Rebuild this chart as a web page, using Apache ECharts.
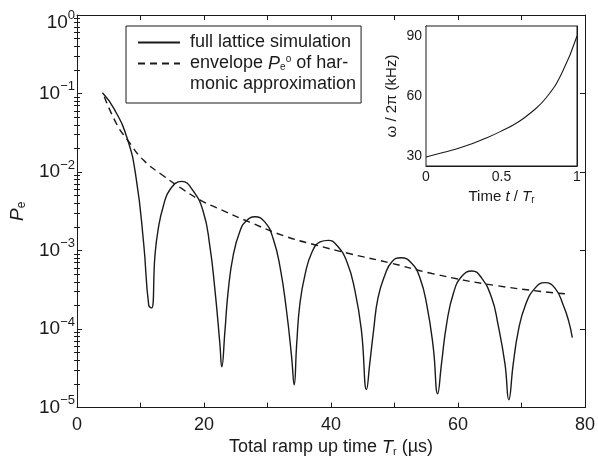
<!DOCTYPE html>
<html>
<head>
<meta charset="utf-8">
<script src="https://cdn.jsdelivr.net/npm/echarts@6/dist/echarts.min.js"></script>
<style>
  html, body { margin: 0; padding: 0; background: #fff; }
  #chart { width: 598px; height: 462px; }
</style>
</head>
<body>
<div id="chart"></div>
<script>
// full lattice simulation, P_e against total ramp time (µs)
var rampTime = [4.0, 5.8, 7.9, 9.3, 10.5, 11.3, 11.76, 12.28, 12.8, 13.6, 14.65, 16.5, 18.3, 19.9, 20.9, 21.7, 22.5, 22.8,
  23.3, 23.8, 24.6, 25.7, 26.7, 28.0, 29.6, 30.9, 32.0, 33.0, 33.8, 34.2,
  34.6, 35.1, 35.9, 37.0, 38.3, 39.6, 40.9, 42.5, 43.8, 44.8, 45.6,
  46.1, 46.7, 47.4, 48.5, 49.6, 51.0, 52.7, 54.0, 55.1, 56.1, 56.8,
  57.4, 58.2, 59.3, 60.6, 62.2, 63.7, 65.3, 66.3, 67.4, 68.0,
  68.7, 69.5, 70.6, 72.1, 73.7, 75.3, 76.6, 77.4, 78.0];
var peFull = [0.102, 0.0646, 0.0269, 8.5e-3, 1.23e-3, 2.0e-4, 1.86e-4, 8.7e-4, 1.9e-3, 3.7e-3, 6.0e-3, 7.6e-3, 5.75e-3, 3.1e-3, 1.17e-3, 3.3e-4, 6.5e-5, 3.3e-5,
  9.5e-5, 3.0e-4, 8.7e-4, 1.8e-3, 2.4e-3, 2.7e-3, 2.3e-3, 1.41e-3, 6.0e-4, 1.7e-4, 4.4e-5, 1.95e-5,
  6.5e-5, 2.1e-4, 4.9e-4, 9.5e-4, 1.29e-3, 1.35e-3, 1.17e-3, 7.2e-4, 3.0e-4, 9.5e-5, 1.7e-5,
  3.6e-5, 9.5e-5, 2.5e-4, 4.9e-4, 7.2e-4, 8.1e-4, 6.9e-4, 4.5e-4, 2.0e-4, 5.9e-5, 1.5e-5,
  3.6e-5, 1.15e-4, 2.9e-4, 4.7e-4, 5.5e-4, 4.5e-4, 2.5e-4, 1.15e-4, 3.6e-5, 1.26e-5,
  3.6e-5, 9.5e-5, 2.0e-4, 3.3e-4, 3.9e-4, 3.3e-4, 2.0e-4, 1.29e-4, 7.8e-5];

// envelope of the harmonic approximation
var envTime = [4.3, 6.3, 7.9, 10.5, 13.65, 16.7, 19.4, 22.0, 27.2, 32.5, 37.7, 43.0, 49.5, 55.9, 66.3, 77.1];
var envPe = [0.091, 0.040, 0.026, 0.0141, 8.9e-3, 6.0e-3, 4.4e-3, 3.5e-3, 2.3e-3, 1.55e-3, 1.17e-3, 9.1e-4, 6.9e-4, 5.1e-4, 3.55e-4, 2.8e-4];

// inset: trap frequency during the ramp
var insetT = [0, 0.1, 0.2, 0.3, 0.4, 0.5, 0.6, 0.7, 0.8, 0.9, 1.0];
var insetFreq = [29.5, 31.5, 33.5, 36, 39, 42.5, 46.5, 52, 59.5, 71.5, 90];

var yTicks = [1e-5, 1e-4, 1e-3, 1e-2, 1e-1, 1];
var yTickExp = ['\u22125', '\u22124', '\u22123', '\u22122', '\u22121', '0'];
var xTickLabels = [0, 20, 40, 60, 80];
var insetXTicks = [0, 0.5, 1];
var insetYTicks = [30, 60, 90];

var FONT = 'Liberation Sans, Arial, sans-serif';
var INK = '#1a1a1a';

// minor ticks of the log axis (2..9 in each decade)
var minorTicks = [];
for (var d = -5; d < 0; d++) {
  for (var m = 2; m <= 9; m++) minorTicks.push(m * Math.pow(10, d));
}

function pairs(xs, ys) {
  return xs.map(function (x, i) { return [x, ys[i]]; });
}

var chart = echarts.init(document.getElementById('chart'), null, { renderer: 'canvas' });

var lineAxis = { show: true, onZero: false, lineStyle: { color: INK, width: 1 } };

var option = {
  animation: false,
  backgroundColor: '#fff',
  textStyle: { fontFamily: FONT, color: INK },
  grid: [
    { left: 77, top: 15, right: 13, bottom: 49 },
    { left: 426, top: 26, width: 151, height: 140, show: true, backgroundColor: '#fff', borderColor: INK, borderWidth: 1, z: 5 }
  ],
  legend: {
    left: 126, top: 26,
    orient: 'vertical',
    itemWidth: 42, itemHeight: 10, itemGap: -21,
    padding: [6, 5, 8, 11],
    backgroundColor: '#fff', borderColor: INK, borderWidth: 1,
    selectedMode: false,
    itemStyle: { opacity: 0 },
    data: ['full', 'env'],
    textStyle: {
      fontSize: 18, fontFamily: FONT, color: INK, lineHeight: 21,
      rich: {
        t: { fontSize: 18, lineHeight: 21 },
        i: { fontSize: 18, fontStyle: 'italic', lineHeight: 21 },
        sb: { fontSize: 10, lineHeight: 13, padding: [8, 0, 0, 0] },
        sp: { fontSize: 10, lineHeight: 13, padding: [0, 0, 8, 0] }
      }
    },
    formatter: function (name) {
      if (name === 'full') return '{t| full lattice simulation}';
      return '{t| }\n{t| envelope }{i|P}{sb|e}{sp|o}{t| of har-}\n{t| monic approximation}';
    }
  },
  xAxis: [
    {
      gridIndex: 0, type: 'value', min: 0, max: 80, interval: 10,
      name: 'Total ramp up time {i|T}{sb|r} (\u00b5s)', nameLocation: 'middle', nameGap: 30,
      nameTextStyle: {
        fontSize: 18, color: INK,
        rich: { i: { fontSize: 18, fontStyle: 'italic' }, sb: { fontSize: 11, padding: [8, 0, 0, 0] } }
      },
      axisLine: lineAxis,
      axisTick: { inside: true, length: 5, lineStyle: { color: INK } },
      axisLabel: {
        fontSize: 18, color: INK, margin: 8,
        formatter: function (v) { return xTickLabels.indexOf(v) >= 0 ? String(v) : ''; }
      },
      splitLine: { show: false }
    },
    {
      gridIndex: 0, type: 'value', min: 0, max: 80, interval: 10, position: 'top',
      axisLine: lineAxis,
      axisTick: { inside: true, length: 5, lineStyle: { color: INK } },
      axisLabel: { show: false }, splitLine: { show: false }
    },
    {
      gridIndex: 1, type: 'value', min: 0, max: 1, interval: 0.5,
      name: 'Time {i|t} / {i|T}{sb|r}', nameLocation: 'middle', nameGap: 22,
      nameTextStyle: {
        fontSize: 15, color: INK,
        rich: { i: { fontSize: 15, fontStyle: 'italic' }, sb: { fontSize: 10, padding: [7, 0, 0, 0] } }
      },
      axisLine: lineAxis,
      axisTick: { inside: true, length: 3, lineStyle: { color: INK } },
      axisLabel: {
        fontSize: 14, color: INK, margin: 4,
        formatter: function (v) { return insetXTicks.indexOf(v) >= 0 ? String(v) : ''; }
      },
      splitLine: { show: false }
    },
    {
      gridIndex: 1, type: 'value', min: 0, max: 1, interval: 0.5, position: 'top',
      axisLine: lineAxis,
      axisTick: { inside: true, length: 3, lineStyle: { color: INK } },
      axisLabel: { show: false }, splitLine: { show: false }
    }
  ],
  yAxis: [
    {
      gridIndex: 0, type: 'log', logBase: 10, min: 1e-5, max: 1, position: 'left',
      name: '{i|P}{sb|e}', nameLocation: 'middle', nameGap: 48, nameRotate: 90,
      nameTextStyle: {
        fontSize: 19, color: INK,
        rich: { i: { fontSize: 19, fontStyle: 'italic' }, sb: { fontSize: 12, padding: [9, 0, 0, 0] } }
      },
      axisLine: lineAxis,
      axisTick: { inside: true, length: 5, customValues: yTicks, lineStyle: { color: INK } },
      axisLabel: {
        customValues: yTicks, margin: 2, color: INK,
        formatter: function (v) {
          var k = 0;
          for (var j = 0; j < yTicks.length; j++) {
            if (Math.abs(Math.log10(yTicks[j] / v)) < 0.01) k = j;
          }
          if (k === yTicks.length - 1) return '{bt|10}{st|' + yTickExp[k] + '}';
          return '{b|10}{s|' + yTickExp[k] + '}';
        },
        rich: {
          b: { fontSize: 19, color: INK },
          s: { fontSize: 13, color: INK, padding: [0, 0, 14, 0] },
          bt: { fontSize: 19, color: INK, padding: [16, 0, 0, 0] },
          st: { fontSize: 13, color: INK }
        }
      },
      splitLine: { show: false }
    },
    {
      gridIndex: 0, type: 'log', logBase: 10, min: 1e-5, max: 1, position: 'left',
      axisLine: { show: false },
      axisTick: { inside: true, length: 3, customValues: minorTicks, lineStyle: { color: INK } },
      axisLabel: { show: false }, splitLine: { show: false }
    },
    {
      gridIndex: 0, type: 'log', logBase: 10, min: 1e-5, max: 1, position: 'right',
      axisLine: lineAxis,
      axisTick: { inside: true, length: 5, customValues: yTicks, lineStyle: { color: INK } },
      axisLabel: { show: false }, splitLine: { show: false }
    },
    {
      gridIndex: 0, type: 'log', logBase: 10, min: 1e-5, max: 1, position: 'right',
      axisLine: { show: false },
      axisTick: { inside: true, length: 3, customValues: minorTicks, lineStyle: { color: INK } },
      axisLabel: { show: false }, splitLine: { show: false }
    },
    {
      gridIndex: 1, type: 'value', min: 25, max: 95, position: 'left',
      name: '\u03c9 / 2\u03c0 (kHz)', nameLocation: 'middle', nameGap: 27, nameRotate: 90,
      nameTextStyle: { fontSize: 15, color: INK },
      axisLine: lineAxis,
      axisTick: { inside: true, length: 3, customValues: insetYTicks, lineStyle: { color: INK } },
      axisLabel: { customValues: insetYTicks, fontSize: 14, color: INK, margin: 4 },
      splitLine: { show: false }
    },
    {
      gridIndex: 1, type: 'value', min: 25, max: 95, position: 'right',
      axisLine: lineAxis,
      axisTick: { inside: true, length: 3, customValues: insetYTicks, lineStyle: { color: INK } },
      axisLabel: { show: false }, splitLine: { show: false }
    }
  ],
  series: [
    {
      name: 'full', type: 'line', xAxisIndex: 0, yAxisIndex: 0,
      data: pairs(rampTime, peFull),
      smooth: 0.5, symbol: 'none',
      lineStyle: { color: INK, width: 1.4 },
      itemStyle: { color: INK }
    },
    {
      name: 'env', type: 'line', xAxisIndex: 0, yAxisIndex: 0,
      data: pairs(envTime, envPe),
      smooth: 0.5, symbol: 'none',
      lineStyle: { color: INK, width: 1.4, type: [7, 5] },
      itemStyle: { color: INK }
    },
    {
      name: 'freq', type: 'line', xAxisIndex: 2, yAxisIndex: 4,
      data: pairs(insetT, insetFreq),
      smooth: 0.5, symbol: 'none', z: 6,
      lineStyle: { color: INK, width: 1.1 }
    }
  ]
};

chart.setOption(option);
</script>
</body>
</html>
